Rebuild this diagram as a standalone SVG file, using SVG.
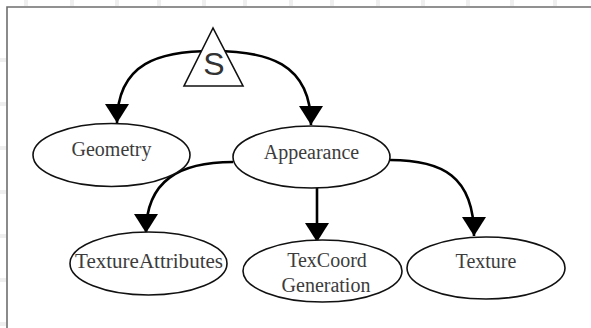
<svg xmlns="http://www.w3.org/2000/svg" width="591" height="328" viewBox="0 0 591 328">
<style>
.frame{fill:none;stroke:#6e6e6e;stroke-width:1.6}
.faint{stroke:#efefef;stroke-width:4}
.node{fill:#fff;stroke:#111;stroke-width:1.6}
.edge{fill:none;stroke:#000;stroke-width:2.6}
.lbl{font-family:"Liberation Serif","Times New Roman",serif;font-size:20px;fill:#3c3c3c;text-anchor:middle}
.s{font-family:"Liberation Sans",Arial,sans-serif;font-size:32px;fill:#333;text-anchor:middle}
</style>
<defs>
<marker id="ah" markerUnits="userSpaceOnUse" markerWidth="20" markerHeight="26" viewBox="0 -13 20 26" refX="19" refY="0" orient="auto">
<path d="M0,-12 L19,0 L0,12 z" fill="#000"/>
</marker>
</defs>
<rect width="591" height="328" fill="#fff"/>
<g id="grid">
<path class="faint" d="M26,0V6M72,0V6M117,0V6M159,0V6M204,0V6M245,0V6M291,0V6M332,0V6M378,0V6M423,0V6M468,0V6M512,0V6M555,0V6M0,60H6M0,104H6M0,148H6M0,192H6M0,236H6M0,280H6M0,324H6"/>
</g>
<path class="frame" d="M7,328V7H591"/>
<g id="connectors">
<path class="edge" d="M213,51 C160,51 117,62 117,123" marker-end="url(#ah)"/>
<path class="edge" d="M213,51 C266,51 311,62 311,125" marker-end="url(#ah)"/>
<path class="edge" d="M233,162 C180,162 146,180 146,233" marker-end="url(#ah)"/>
<path class="edge" d="M317,188 L317,242" marker-end="url(#ah)"/>
<path class="edge" d="M390,160 C442,160 474,176 474,236" marker-end="url(#ah)"/>
</g>
<g id="S">
<polygon class="node" points="213,28 184,86 243,86"/>
<text class="s" x="214" y="75">S</text>
</g>
<g id="Geometry">
<ellipse class="node" cx="111.5" cy="155" rx="78.5" ry="31.5"/>
<text class="lbl" x="111.5" y="156">Geometry</text>
</g>
<g id="Appearance">
<ellipse class="node" cx="311.5" cy="157" rx="78.5" ry="31"/>
<text class="lbl" x="311.5" y="159">Appearance</text>
</g>
<g id="TextureAttributes">
<ellipse class="node" cx="148.5" cy="263.5" rx="78.5" ry="31.5"/>
<text class="lbl" x="149" y="268" textLength="148" lengthAdjust="spacingAndGlyphs">TextureAttributes</text>
</g>
<g id="TexCoordGeneration">
<ellipse class="node" cx="322.5" cy="271" rx="79.5" ry="31"/>
<text class="lbl" x="327" y="267">TexCoord</text>
<text class="lbl" x="326" y="292">Generation</text>
</g>
<g id="Texture">
<ellipse class="node" cx="486" cy="268" rx="79" ry="31"/>
<text class="lbl" x="486" y="268">Texture</text>
</g>
</svg>
